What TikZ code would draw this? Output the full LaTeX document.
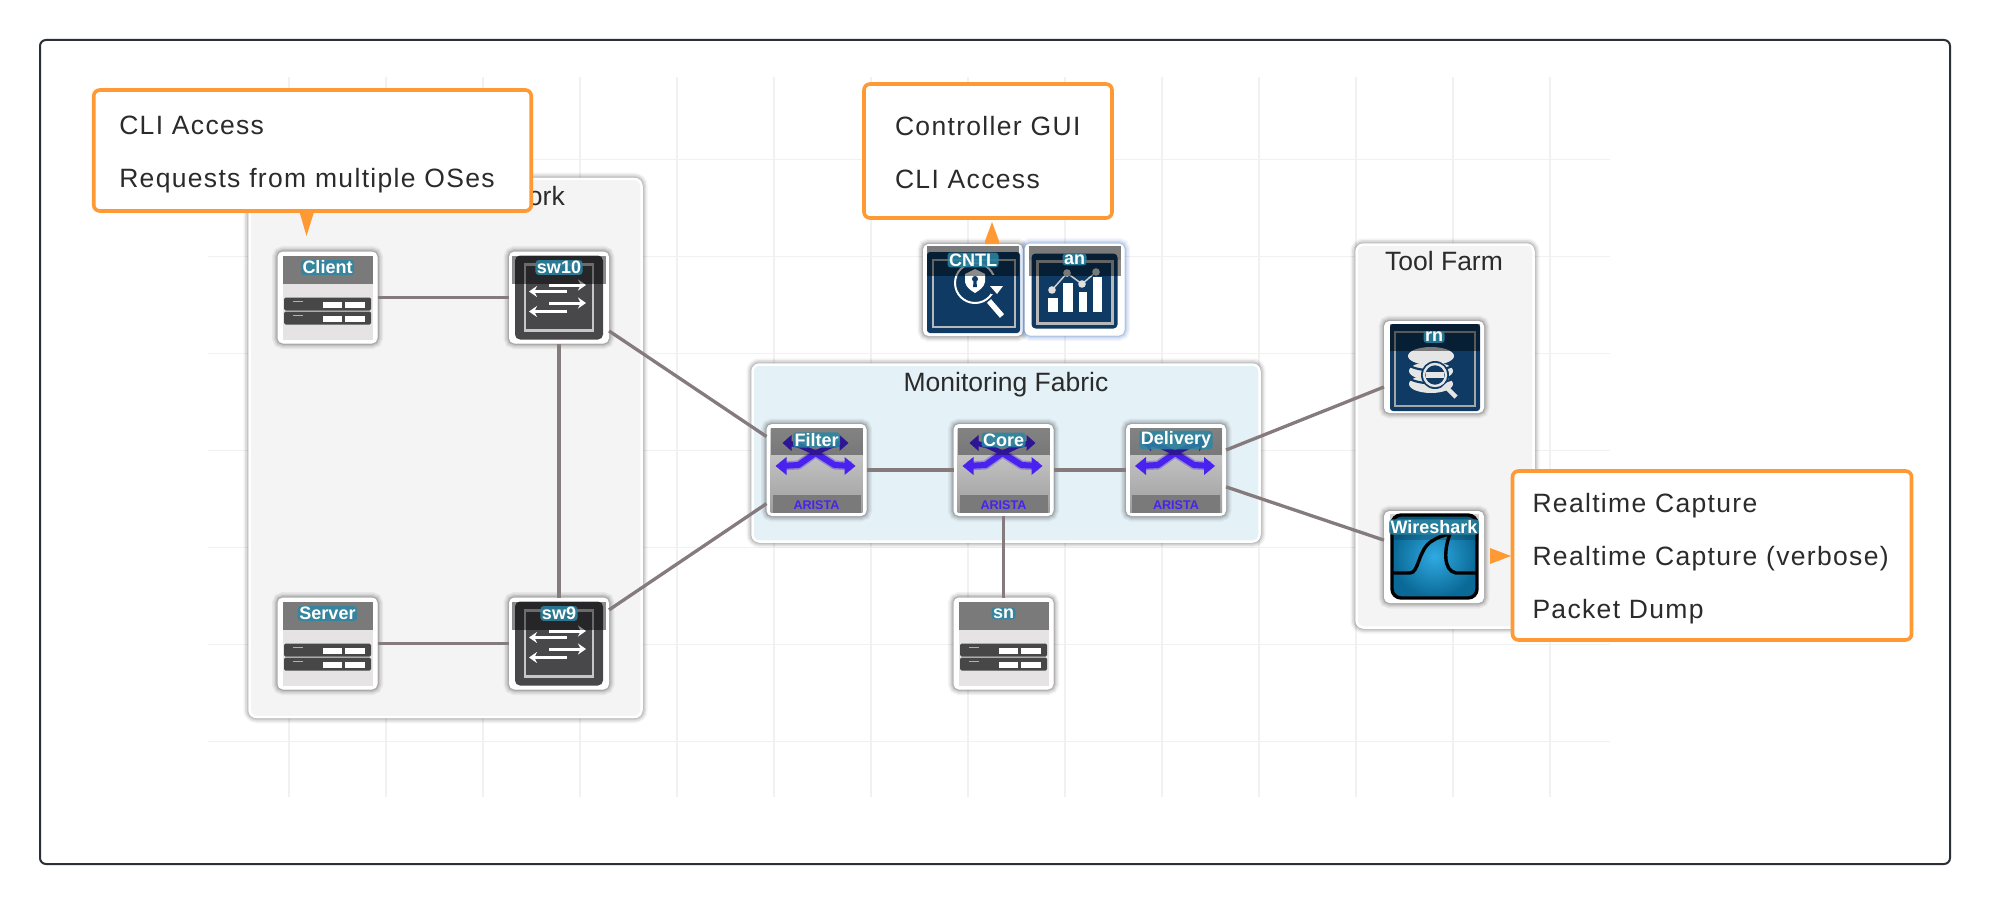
\documentclass[tikz,border=0pt]{standalone}
\usepackage{fontspec}
\setmainfont{Liberation Sans}
\newfontfamily\calloutfont[LetterSpace=5]{Liberation Sans}
\usetikzlibrary{arrows.meta,calc}
\definecolor{gridc}{HTML}{F1F1F1}
\definecolor{framec}{HTML}{2B2F36}
\definecolor{orangec}{HTML}{FF9933}
\definecolor{linkc}{HTML}{857B7C}
\definecolor{tealc}{HTML}{2A86A3}
\definecolor{navyc}{HTML}{0E3A63}
\definecolor{swc}{HTML}{48484B}
\definecolor{bluec}{HTML}{4A22F0}
\definecolor{textc}{HTML}{2B2B2B}
\tikzset{
  softshadow/.style={
    preaction={draw=#1,fill=none,line width=12,opacity=.05},
    preaction={draw=#1,fill=none,line width=9,opacity=.07},
    preaction={draw=#1,fill=none,line width=6,opacity=.09},
    preaction={draw=#1,fill=none,line width=3.5,opacity=.12}},
  groupbox/.style={draw=white,line width=2.5,rounded corners=7,inner sep=0,softshadow=black},
  card/.style={draw=white,fill=white,line width=1,rounded corners=5,minimum width=99,minimum height=91,inner sep=0,softshadow=black},
  cardglow/.style={draw=white,fill=white,line width=1,rounded corners=5,minimum width=99,minimum height=91,inner sep=0,softshadow={blue!60!cyan!70!black}},
  lbl/.style={fill=tealc,fill opacity=.85,text opacity=1,text=white,rounded corners=3,inner xsep=1.5,inner ysep=1,
    font=\fontsize{18}{19}\selectfont\bfseries},
  title/.style={inner sep=0,text=textc,font=\fontsize{26.5}{28}\selectfont},
  callout/.style={draw=orangec,fill=white,line width=3.6,rounded corners=6,align=left,inner ysep=0,text=textc,
    font=\fontsize{26.5}{53}\calloutfont\selectfont},
  link/.style={draw=linkc,line width=3.3},
  band/.style={fill=black,fill opacity=.46},
  gframe/.style={draw=black!25,line width=2.2},
  wh/.style={draw=white,line width=3,-{Stealth[length=8,width=11]}},
}
\newcommand{\devserver}[1]{%
  \begin{scope}[shift={(#1.center)}]
    \fill[fill={rgb,255:red,229;green,227;blue,228}] (-45,-42) rectangle (45,42);
    \fill[band] (-45,-42) rectangle (45,-14);
    \foreach \yy in {0,14}{
      \fill[rounded corners=1.5,fill=black!72] (-43.5,\yy) rectangle (43.5,\yy+13);
      \fill[white] (-5,\yy+4) rectangle (14,\yy+10);
      \fill[white] (17.5,\yy+4) rectangle (37.5,\yy+10);
      \fill[white!70!black] (-35,\yy+3) rectangle (-25,\yy+4.5);
    }
  \end{scope}}
\newcommand{\devswitch}[1]{%
  \begin{scope}[shift={(#1.center)}]
    \fill[swc,rounded corners=5] (-44,-42) rectangle (44,42);
    \draw[draw=white!78!black,line width=2.6] (-34,-33) rectangle (34,33);
    \draw[wh] (-10,-12.5) -- (27,-12.5);
    \draw[wh] (8,-6) -- (-30,-6);
    \draw[wh] (-10,5.5) -- (27,5.5);
    \draw[wh] (8,14) -- (-30,14);
    \fill[band] (-47,-42) rectangle (47,-14);
  \end{scope}}
\newcommand{\devarista}[1]{%
  \begin{scope}[shift={(#1.center)}]
    \shade[top color=black!17,bottom color=black!38] (-46,-42) rectangle (46,42);
    \fill[fill=black!52] (-44,25) rectangle (44,43);
    \draw[draw=bluec,opacity=.35,line width=9,line join=round] (-36,-4) -- (-18,-5) -- (-1,-17) -- (18,-5) -- (35,-4);
    \draw[draw=bluec,line width=6,line join=round] (-36,-4) -- (-18,-5) -- (-1,-17) -- (18,-5) -- (35,-4);
    \fill[bluec] (-41,-4) -- (-30,-13) -- (-30,5) -- cycle;
    \fill[bluec] (39,-4) -- (28,-13) -- (28,5) -- cycle;
    \draw[draw=bluec,line width=5] (-28,-27) -- (-16,-24) -- (-1,-17) -- (14,-24) -- (26,-27);
    \fill[bluec] (-34,-27) -- (-25,-35) -- (-25,-19) -- cycle;
    \fill[bluec] (32,-27) -- (23,-35) -- (23,-19) -- cycle;
    \fill[band,fill opacity=.38] (-46,-42) rectangle (46,-15);
  \end{scope}}
\newcommand{\devcntl}[1]{%
  \begin{scope}[shift={(#1.center)}]
    \fill[fill=black!10] (-46,-44) rectangle (46,-30);
    \fill[navyc,rounded corners=3] (-46,-38) rectangle (47,43);
    \draw[gframe,draw=white!72!black] (-40,-30) rectangle (42,37);
    \draw[draw=white,line width=2] (2,-7) circle (20);
    \fill[navyc] (18,-15) rectangle (28,4);
    \draw[draw=white,line width=5.5] (16,11) -- (29,26);
    \fill[white] (2,-21) -- (12,-16) -- (12,-8) .. controls (11,-3) and (7,0) .. (2,3) .. controls (-3,0) and (-7,-3) .. (-8,-8) -- (-8,-16) -- cycle;
    \fill[navyc] (2,-11) circle (3);
    \fill[navyc] (0.7,-10) -- (3.3,-10) -- (4,-3) -- (0,-3) -- cycle;
    \fill[white] (17,-4) -- (30,-4) -- (24,4) -- cycle;
    \fill[band] (-46,-44) rectangle (46,-14);
  \end{scope}}
\newcommand{\devan}[1]{%
  \begin{scope}[shift={(#1.center)}]
    \fill[fill=black!10] (-46,-44) rectangle (46,-30);
    \fill[navyc,rounded corners=4] (-43,-36) rectangle (43,39);
    \draw[gframe,draw=white!72!black] (-37,-28) rectangle (38,34);
    \fill[white] (-27,8.5) rectangle (-17,22.5);
    \fill[white] (-11.5,-6.5) rectangle (-2,22.5);
    \fill[white] (4,2.5) rectangle (12.5,22.5);
    \fill[white] (18.5,-12.5) rectangle (27,22.5);
    \draw[draw=white!80!black,line width=1.5] (-22.5,.5) -- (-7.5,-16.5) -- (7.5,-5.5) -- (21.5,-17.5);
    \foreach \px/\py in {-22.5/.5,-7.5/-16.5,7.5/-5.5,21.5/-17.5}{\fill[white!88!black] (\px,\py) circle (3.8);}
    \fill[band] (-46,-44) rectangle (46,-14);
  \end{scope}}
\newcommand{\devrn}[1]{%
  \begin{scope}[shift={(#1.center)}]
    \fill[navyc,rounded corners=3] (-44,-43) rectangle (46,44);
    \draw[gframe,draw=white!65!black] (-39,-35) rectangle (41,39);
    \fill[white!90!black] (-3,-11) ellipse (23 and 9);
    \fill[white!90!black] (-3,4) ellipse (22 and 9);
    \fill[white!90!black] (-3,17) ellipse (22 and 9);
    \draw[draw=navyc,line width=2.2] (-26,-2) .. controls (-15,5) and (9,5) .. (20,-2);
    \draw[draw=navyc,line width=2.2] (-26,11) .. controls (-15,18) and (9,18) .. (20,11);
    \fill[navyc] (1,8) circle (14);
    \draw[draw=white!90!black,line width=2.4] (1,8) circle (11);
    \fill[white!90!black] (-8,5) rectangle (10,11);
    \draw[draw=white!90!black,line width=4.5] (10,18) -- (22,30);
    \fill[band] (-44,-43) rectangle (46,-16);
  \end{scope}}
\newcommand{\devwire}[1]{%
  \begin{scope}[shift={(#1.center)}]
    \shade[rounded corners=9,inner color={rgb,255:red,48;green,170;blue,226},outer color={rgb,255:red,10;green,105;blue,150},draw=black,line width=3.4] (-42,-42) rectangle (43,41);
    \draw[draw=black,line width=3.4] (-41,16) -- (-24,16) .. controls (-15,16) and (-16,-8) .. (-2,-16) .. controls (4,-20) and (10,-22) .. (16,-23);
    \draw[draw=black,line width=3.4] (16,-23) .. controls (10,-8) and (9,14) .. (22,16) -- (42,16);
    \fill[fill=black,fill opacity=.18] (-44,-43) rectangle (45,-17);
  \end{scope}}
\begin{document}
\begin{tikzpicture}[x=1pt,y=-1pt]
\useasboundingbox (0,0) rectangle (1991,904);
\fill[white] (0,0) rectangle (1991,904);
\draw[draw=framec,line width=2,rounded corners=6] (40,40) rectangle (1950,864);
% grid
\foreach \k in {0,...,13}{\draw[draw=gridc,line width=1.5] (289+97*\k,77) -- (289+97*\k,797);}
\foreach \k in {0,...,6}{\draw[draw=gridc,line width=1.5] (208,159.5+97*\k) -- (1610,159.5+97*\k);}
% groups
\node[groupbox,fill={rgb,255:red,244;green,244;blue,244},minimum width=392,minimum height=538] (net) at (445.5,448) {};
\node[groupbox,fill={rgb,255:red,228;green,241;blue,246},minimum width=507,minimum height=177] (fabric) at (1006,453) {};
\node[groupbox,fill={rgb,255:red,244;green,244;blue,244},minimum width=177,minimum height=383] (tools) at (1445,436) {};
\node[title,anchor=base east] (nettitle) at (565,206) {ork};
\node[title,anchor=base] (fabrictitle) at (1006,391) {Monitoring Fabric};
\node[title,anchor=base] (toolstitle) at (1444,270) {Tool Farm};
% devices
\node[card] (client) at (327.5,297.5) {};
\node[card] (sw10) at (559,297.5) {};
\node[card] (server) at (327.5,643.5) {};
\node[card] (sw9) at (559,643.5) {};
\node[card] (filter) at (816.5,470) {};
\node[card] (core) at (1003.5,470) {};
\node[card] (delivery) at (1176,470) {};
\node[card] (sn) at (1003.5,643.5) {};
\node[card] (cntl) at (973,290) {};
\node[cardglow] (an) at (1074.5,289.5) {};
\node[card] (rn) at (1434,367) {};
\node[card] (wire) at (1434,557) {};
\devserver{client}\devserver{server}\devserver{sn}
\devswitch{sw10}\devswitch{sw9}
\devarista{filter}\devarista{core}\devarista{delivery}
\devcntl{cntl}\devan{an}\devrn{rn}\devwire{wire}
\foreach \dn/\dt in {client/Client,sw10/sw10,server/Server,sw9/sw9,filter/Filter,core/Core,delivery/Delivery,sn/sn,cntl/CNTL,an/an,rn/rn,wire/Wireshark}{
  \node[lbl] (\dn-l) at ($(\dn.center)+(0,-30)$) {\dt};
}
\foreach \dn in {filter,core,delivery}{
  \node[inner sep=0,text=bluec,font=\fontsize{12.6}{13}\selectfont\bfseries] (\dn-a) at ($(\dn.center)+(0,35)$) {ARISTA};
}
% links
\draw[link] (client) -- (sw10);
\draw[link] (server) -- (sw9);
\draw[link] (sw10) -- (sw9);
\draw[link] (sw10) -- (filter);
\draw[link] (sw9) -- (filter);
\draw[link] (filter) -- (core);
\draw[link] (core) -- (delivery);
\draw[link] (core) -- (sn);
\draw[link] (delivery) -- (rn);
\draw[link] (delivery) -- (wire);
% callouts
\node[callout,minimum height=121,inner xsep=25.5,text width=386.5] (c1) at (312.5,150.5) {\rule{0pt}{26pt}CLI Access\\Requests from multiple OSes};
\node[callout,minimum height=134,inner xsep=31,text width=186] (c2) at (988,151) {\rule{0pt}{21.5pt}Controller GUI\\CLI Access};
\node[callout,minimum height=169,inner xsep=20,text width=359] (c3) at (1712,555.5) {\rule{0pt}{26pt}Realtime Capture\\Realtime Capture (verbose)\\Packet Dump};
\fill[orangec] (299.5,212) -- (314,212) -- (306.5,236) -- cycle;
\fill[orangec] (992,222) -- (999,241) -- (999,244) -- (985,244) -- (985,241) -- cycle;
\fill[orangec] (1490,548) -- (1511,556) -- (1490,564) -- cycle;
\end{tikzpicture}
\end{document}
